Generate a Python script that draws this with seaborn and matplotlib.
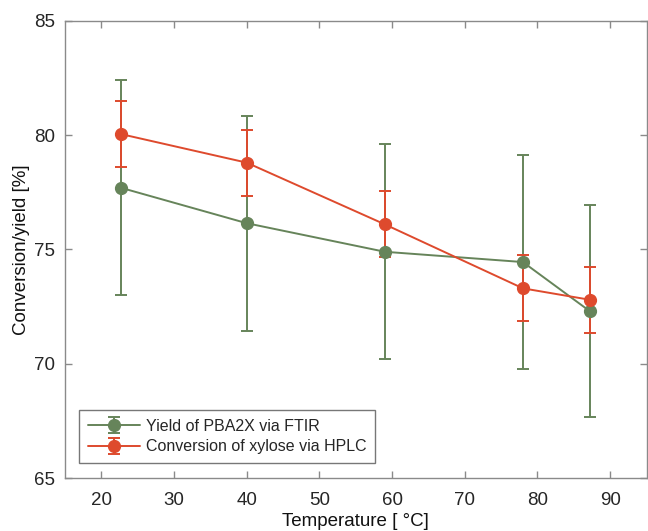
import matplotlib
matplotlib.use("Agg")
import matplotlib.pyplot as plt
import seaborn as sns
import pandas as pd

temperature = [22.7, 40.0, 59.0, 78.0, 87.2]
yield_ftir = [77.70, 76.15, 74.90, 74.45, 72.30]
yield_ftir_err = [4.70, 4.70, 4.70, 4.70, 4.65]
conv_hplc = [80.05, 78.80, 76.10, 73.30, 72.80]
conv_hplc_err = [1.44, 1.45, 1.44, 1.44, 1.44]
labels = ["Yield of PBA2X via FTIR", "Conversion of xylose via HPLC"]
x_ticks = [20, 30, 40, 50, 60, 70, 80, 90]
y_ticks = [65, 70, 75, 80, 85]

green = "#66845a"
red = "#de4a2d"

sns.set_theme(style="white")
plt.rcParams["font.family"] = ["Liberation Sans", "DejaVu Sans"]

fig = plt.figure(figsize=(6.48, 5.31), dpi=100)
ax = fig.add_axes([0.1003, 0.0998, 0.8974, 0.8607])

df = pd.DataFrame({
    "T": temperature * 2,
    "v": yield_ftir + conv_hplc,
    "e": yield_ftir_err + conv_hplc_err,
    "s": [labels[0]] * 5 + [labels[1]] * 5,
})

handles = []
for lab, col in zip(labels, [green, red]):
    sub = df[df["s"] == lab]
    h = ax.errorbar(sub["T"], sub["v"], yerr=sub["e"], fmt="-o", color=col,
                    ecolor=col, elinewidth=1.4, capsize=4, capthick=1.4,
                    lw=1.4, markersize=8.5, label=lab, zorder=3)
    handles.append(h)

ax.set_xlim(15, 95)
ax.set_ylim(65, 85)
ax.set_xticks(x_ticks)
ax.set_yticks(y_ticks)

spine_col = "#8a8a8a"
for sp in ax.spines.values():
    sp.set_visible(True)
    sp.set_color(spine_col)
    sp.set_linewidth(1.0)

ax.tick_params(axis="both", which="both", direction="in", length=5, width=1.0,
               color=spine_col, labelsize=13.5, labelcolor="#262626",
               top=True, right=True, bottom=True, left=True)
ax.tick_params(axis="x", pad=10)
ax.tick_params(axis="y", pad=7)

ax.set_xlabel("Temperature [ °C]", fontsize=13.5, color="#111111", labelpad=3)
ax.set_ylabel("Conversion/yield [%]", fontsize=13.5, color="#111111", labelpad=3)

leg = ax.legend(handles=handles, labels=labels, loc="lower left",
                bbox_to_anchor=(0.024, 0.033), borderaxespad=0.0,
                fontsize=11.5, frameon=True,
                fancybox=False, edgecolor="#555555", handlelength=3.3,
                labelspacing=0.35, borderpad=0.55, handletextpad=0.35)
leg.get_frame().set_linewidth(1.0)

fig.savefig("out.png", dpi=100)
